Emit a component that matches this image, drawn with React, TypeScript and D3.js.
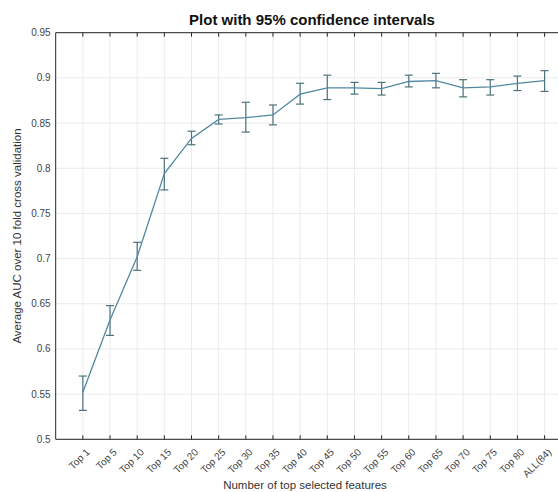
import React, { useRef, useEffect } from 'react';
import * as d3 from 'd3';

const labels = ['Top 1', 'Top 5', 'Top 10', 'Top 15', 'Top 20', 'Top 25', 'Top 30', 'Top 35', 'Top 40',
  'Top 45', 'Top 50', 'Top 55', 'Top 60', 'Top 65', 'Top 70', 'Top 75', 'Top 80', 'ALL(84)'];
const means = [0.552, 0.632, 0.702, 0.794, 0.833, 0.854, 0.856, 0.859, 0.882, 0.889, 0.889, 0.888,
  0.896, 0.897, 0.889, 0.890, 0.894, 0.897];
const upper = [0.570, 0.648, 0.718, 0.811, 0.841, 0.859, 0.873, 0.870, 0.894, 0.903, 0.895, 0.895,
  0.903, 0.905, 0.898, 0.898, 0.902, 0.908];
const lower = [0.532, 0.615, 0.687, 0.776, 0.826, 0.849, 0.840, 0.848, 0.871, 0.876, 0.882, 0.881,
  0.890, 0.889, 0.879, 0.881, 0.886, 0.885];
const yTicks = [0.5, 0.55, 0.6, 0.65, 0.7, 0.75, 0.8, 0.85, 0.9, 0.95];

const W = 558;
const H = 492;
const FONT = '"Liberation Sans", Arial, sans-serif';

const App = () => {
  const svgRef = useRef<SVGSVGElement>(null);

  useEffect(() => {
    const svg = d3.select(svgRef.current);
    svg.selectAll('*').remove();

    const left = 55.7;
    const step = 27.16;
    const top = 32.7;
    const bottom = 439.3;

    const x = d3.scaleLinear().domain([0, labels.length + 1]).range([left, left + step * (labels.length + 1)]);
    const y = d3.scaleLinear().domain([0.5, 0.95]).range([bottom, top]);
    const idx = d3.range(labels.length);

    // grid
    const grid = svg.append('g').attr('stroke', '#ebebeb').attr('stroke-width', 1);
    grid.selectAll('line.gx').data(idx).join('line')
      .attr('x1', i => x(i + 1)).attr('x2', i => x(i + 1))
      .attr('y1', top).attr('y2', bottom);
    grid.selectAll('line.gy').data(yTicks).join('line')
      .attr('x1', left).attr('x2', W)
      .attr('y1', d => y(d)).attr('y2', d => y(d));

    // axes box
    const ax = svg.append('g').attr('stroke', '#262626').attr('stroke-width', 1);
    ax.append('line').attr('x1', left).attr('x2', W).attr('y1', top).attr('y2', top);
    ax.append('line').attr('x1', left).attr('x2', W).attr('y1', bottom).attr('y2', bottom);
    ax.append('line').attr('x1', left).attr('x2', left).attr('y1', top).attr('y2', bottom);
    ax.selectAll('line.tb').data(idx).join('line')
      .attr('x1', i => x(i + 1)).attr('x2', i => x(i + 1))
      .attr('y1', bottom).attr('y2', bottom - 4);
    ax.selectAll('line.tt').data(idx).join('line')
      .attr('x1', i => x(i + 1)).attr('x2', i => x(i + 1))
      .attr('y1', top).attr('y2', top + 4);

    // y tick labels
    svg.append('g').selectAll('text').data(yTicks).join('text')
      .attr('x', left - 5).attr('y', d => y(d)).attr('dy', '0.35em')
      .attr('text-anchor', 'end').attr('font-family', FONT).attr('font-size', 10)
      .attr('fill', '#444').text(d => String(d));

    // x tick labels
    svg.append('g').selectAll('text').data(idx).join('text')
      .attr('transform', i => `translate(${x(i + 1) + 5},${bottom + 11}) rotate(-45)`)
      .attr('text-anchor', 'end').attr('dy', '0.35em')
      .attr('font-family', FONT).attr('font-size', 10)
      .attr('fill', '#444').text(i => labels[i]);

    // error bars
    const eb = svg.append('g').attr('stroke', '#4d727c').attr('stroke-width', 1.2);
    eb.selectAll('line.v').data(idx).join('line')
      .attr('x1', i => x(i + 1)).attr('x2', i => x(i + 1))
      .attr('y1', i => y(upper[i])).attr('y2', i => y(lower[i]));
    eb.selectAll('line.u').data(idx).join('line')
      .attr('x1', i => x(i + 1) - 4).attr('x2', i => x(i + 1) + 4)
      .attr('y1', i => y(upper[i])).attr('y2', i => y(upper[i]));
    eb.selectAll('line.l').data(idx).join('line')
      .attr('x1', i => x(i + 1) - 4).attr('x2', i => x(i + 1) + 4)
      .attr('y1', i => y(lower[i])).attr('y2', i => y(lower[i]));

    // mean line
    const line = d3.line<number>().x(i => x(i + 1)).y(i => y(means[i]));
    svg.append('path').attr('d', line(idx))
      .attr('fill', 'none').attr('stroke', '#5089a2').attr('stroke-width', 1.3);

    // title and axis labels
    svg.append('text').attr('x', 312).attr('y', 25).attr('text-anchor', 'middle')
      .attr('font-family', FONT).attr('font-size', 15).attr('font-weight', 'bold')
      .attr('fill', '#111').text('Plot with 95% confidence intervals');
    svg.append('text').attr('x', 305).attr('y', 489).attr('text-anchor', 'middle')
      .attr('font-family', FONT).attr('font-size', 11.5).attr('fill', '#333')
      .text('Number of top selected features');
    svg.append('text').attr('transform', `translate(21,${(top + bottom) / 2}) rotate(-90)`)
      .attr('text-anchor', 'middle').attr('font-family', FONT).attr('font-size', 11.5)
      .attr('fill', '#333').text('Average AUC over 10 fold cross validation');
  }, []);

  return (
    <svg ref={svgRef} width={W} height={H}
      style={{ position: 'absolute', left: 0, top: 0, display: 'block', background: '#fff' }} />
  );
};

export default App;
